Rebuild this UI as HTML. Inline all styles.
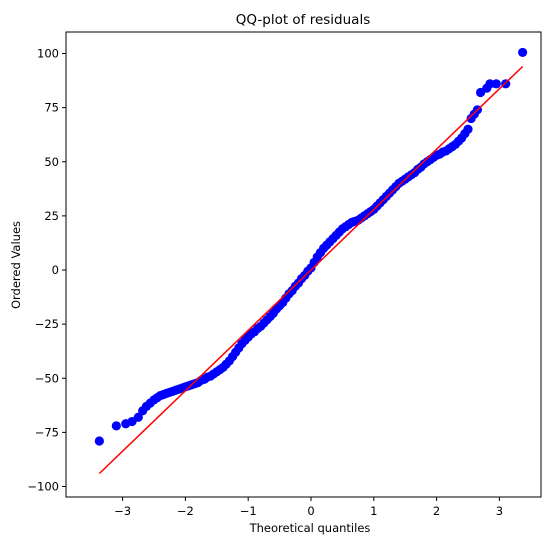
<!DOCTYPE html>
<html><head><meta charset="utf-8"><style>
body{margin:0;background:#fff;}
svg text{font-family:"DejaVu Sans","Liberation Sans",sans-serif;fill:#000;}
</style></head><body>
<svg id="chart" width="552" height="547" viewBox="0 0 552 547" xmlns="http://www.w3.org/2000/svg">
<rect width="552" height="547" fill="#fff"/>
<g id="marks"></g>
<g id="axes"></g>
</svg>
<script>
const quantiles = [-3.37,-3.1,-2.95,-2.85,-2.75,-2.68,-2.62,-2.56,-2.5,-2.45,-2.4,-2.35,-2.3,-2.25,-2.2,-2.15,-2.1,-2.05,-2.0,-1.95,-1.9,-1.85,-1.8,-1.75,-1.7,-1.65,-1.6,-1.55,-1.5,-1.45,-1.4,-1.35,-1.3,-1.25,-1.2,-1.15,-1.1,-1.05,-1.0,-0.95,-0.9,-0.85,-0.8,-0.75,-0.7,-0.65,-0.6,-0.55,-0.5,-0.45,-0.4,-0.35,-0.3,-0.25,-0.2,-0.15,-0.1,-0.05,0,0.05,0.1,0.15,0.2,0.25,0.3,0.35,0.4,0.45,0.5,0.55,0.6,0.65,0.7,0.75,0.8,0.85,0.9,0.95,1.0,1.05,1.1,1.15,1.2,1.25,1.3,1.35,1.4,1.45,1.5,1.55,1.6,1.65,1.7,1.75,1.8,1.85,1.9,1.95,2.0,2.05,2.1,2.15,2.2,2.25,2.3,2.35,2.4,2.45,2.5,2.55,2.6,2.65,2.7,2.8,2.85,2.95,3.1,3.37];
const orderedValues = [-79,-72,-71,-70,-68,-65,-63,-61.5,-60,-59,-58,-57.5,-57,-56.5,-56,-55.5,-55,-54.5,-54,-53.5,-53,-52.5,-52,-51,-50.5,-49.5,-49,-48,-47,-46,-45,-43.5,-42,-40,-38,-36,-34,-32.5,-31,-29.5,-28.5,-27,-26,-24.5,-23,-21.5,-20,-18,-16.5,-15,-13,-11,-9.5,-7.5,-6,-4,-2.5,-0.5,1,3.5,6,8,10,11.5,13,14.5,16,17.5,19,20,21,22,22.5,23,24,25,26,27,28,29.5,31,32.5,34,35.5,37,38.5,40,41,42,43,44,45,46.5,47.5,49,50,51,52,53,53.5,54.5,55,56,57,58,59.5,61,63,65,70,72,74,82,84,86,86,86,100.5];
const fitLineX = [-3.37, 3.37];
const fitLineY = [-94, 94];
const xTicks = [-3,-2,-1,0,1,2,3];
const yTicks = [-100,-75,-50,-25,0,25,50,75,100];

const L=66,R=541,T=32,B=497;
const x0=311, xs=62.8, y0=270, ys=2.165;
const X=v=>x0+v*xs, Y=v=>y0-v*ys;
const NS="http://www.w3.org/2000/svg";
const marks=document.getElementById('marks'), axes=document.getElementById('axes');
function mk(tag,attrs,parent){const e=document.createElementNS(NS,tag);for(const k in attrs)e.setAttribute(k,attrs[k]);parent.appendChild(e);return e;}

for(let i=0;i<quantiles.length;i++){
  const c=mk('circle',{cx:X(quantiles[i]),cy:Y(orderedValues[i]),r:4.6,fill:'#0000ff'},marks);
  
  
}
const ln=mk('line',{x1:X(fitLineX[0]),y1:Y(fitLineY[0]),x2:X(fitLineX[1]),y2:Y(fitLineY[1]),stroke:'#ff0000','stroke-width':1.5},marks);



const fr=mk('rect',{x:L,y:T,width:R-L,height:B-T,fill:'none',stroke:'#000','stroke-width':1},axes);



xTicks.forEach(t=>{
  const x=X(t);
  mk('line',{x1:x,y1:B,x2:x,y2:B+4,stroke:'#000'},axes);
  const tx=mk('text',{x:x,y:B+18,'text-anchor':'middle','font-size':'11.5'},axes);
  tx.textContent=(t<0?'\u2212'+(-t):t);
  
  
});
yTicks.forEach(t=>{
  const y=Y(t);
  mk('line',{x1:L-4,y1:y,x2:L,y2:y,stroke:'#000'},axes);
  const tx=mk('text',{x:L-7,y:y+4,'text-anchor':'end','font-size':'11.5'},axes);
  tx.textContent=(t<0?'\u2212'+(-t):t);
  
  
});
</script>
<svg style="position:absolute;left:0;top:0" width="552" height="547" xmlns="http://www.w3.org/2000/svg">
<text x="303" y="24" text-anchor="middle" font-size="13.5">QQ-plot of residuals</text>
<text x="310" y="532" text-anchor="middle" font-size="11.5">Theoretical quantiles</text>
<text x="20" y="265" text-anchor="middle" font-size="11.5" transform="rotate(-90 20 265)">Ordered Values</text>
</svg>
</body></html>
